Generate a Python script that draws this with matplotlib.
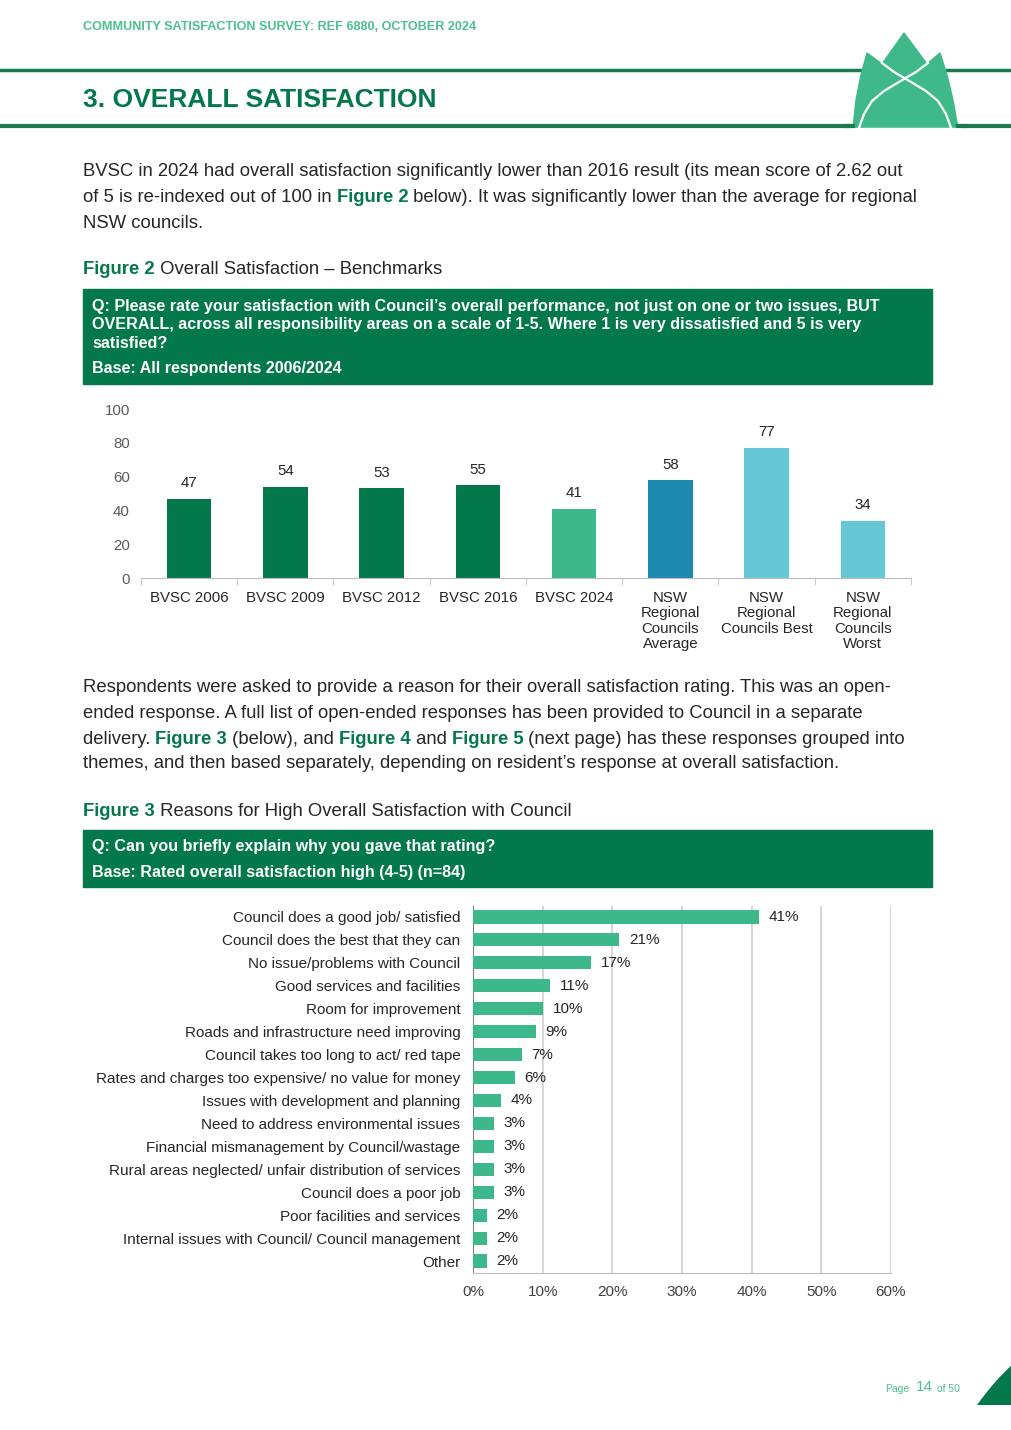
import matplotlib
matplotlib.use("Agg")
import matplotlib.pyplot as plt
from matplotlib.patches import Polygon, Rectangle, PathPatch
from matplotlib.path import Path

plt.rcParams["font.family"] = ["Liberation Sans", "DejaVu Sans"]

# Figure 2 data
bench_labels = ["BVSC 2006", "BVSC 2009", "BVSC 2012", "BVSC 2016", "BVSC 2024",
                "NSW\nRegional\nCouncils\nAverage", "NSW\nRegional\nCouncils Best",
                "NSW\nRegional\nCouncils\nWorst"]
bench_values = [47, 54, 53, 55, 41, 58, 77, 34]
bench_colors = ["#03784b"] * 4 + ["#3db88b", "#1f8aaf", "#66c8d6", "#66c8d6"]

# Figure 3 data
reason_labels = [
    "Council does a good job/ satisfied",
    "Council does the best that they can",
    "No issue/problems with Council",
    "Good services and facilities",
    "Room for improvement",
    "Roads and infrastructure need improving",
    "Council takes too long to act/ red tape",
    "Rates and charges too expensive/ no value for money",
    "Issues with development and planning",
    "Need to address environmental issues",
    "Financial mismanagement by Council/wastage",
    "Rural areas neglected/ unfair distribution of services",
    "Council does a poor job",
    "Poor facilities and services",
    "Internal issues with Council/ Council management",
    "Other",
]
reason_values = [41, 21, 17, 11, 10, 9, 7, 6, 4, 3, 3, 3, 3, 2, 2, 2]

DARK = "#03784b"
LIGHT = "#3db88b"
TXT = "#262626"
BODY = 13.3
W, H = 1012, 1430

fig = plt.figure(figsize=(W / 100, H / 100), dpi=100)
page = fig.add_axes([0, 0, 1, 1])
page.set_xlim(0, W)
page.set_ylim(H, 0)
page.axis("off")
renderer = fig.canvas.get_renderer()


def rect(x0, y0, x1, y1):
    # pixel box -> figure fraction
    return [x0 / W, 1 - y1 / H, (x1 - x0) / W, (y1 - y0) / H]


def rich(x, y, parts, size=BODY):
    """draw text segments one after another on the same line"""
    for s, bold, color in parts:
        t = page.text(x, y, s, fontsize=size, color=color, va="center",
                      fontweight="bold" if bold else "normal")
        x += t.get_window_extent(renderer).width


# header
page.text(83, 27, "COMMUNITY SATISFACTION SURVEY: REF 6880, OCTOBER 2024",
          fontsize=9.1, fontweight="bold", color="#4cc08f", va="center")
page.plot([0, W], [70, 70], color="#1b7a50", lw=2.5)
page.plot([0, W], [126, 126], color="#1b7a50", lw=3)
page.text(83, 100, "3. OVERALL SATISFACTION", fontsize=19, fontweight="bold",
          color=DARK, va="center")

# logo
logo = Polygon([(853, 128), (856, 100), (861, 75), (867, 53), (882, 64), (904, 33),
                (927, 64), (940, 53), (947, 75), (953, 100), (958, 128)],
               closed=True, color="#40b98a", zorder=3)
page.add_patch(logo)
curve_a = [(859, 128), (864, 114), (872, 101), (884, 91), (904, 79), (916, 72), (928, 63)]
curve_b = [(951 - (px - 859), py) for px, py in curve_a]
for pts in (curve_a, curve_b):
    page.plot([p[0] for p in pts], [p[1] for p in pts], color="white", lw=1.6, zorder=4)
page.add_patch(Rectangle((850, 128), 112, 6, color="white", zorder=3))
page.plot([845, 853], [126, 126], color="#1b7a50", lw=3, zorder=3)
page.plot([958, 965], [126, 126], color="#1b7a50", lw=3, zorder=3)

# paragraph 1
rich(83, 172, [("BVSC in 2024 had overall satisfaction significantly lower than 2016 result "
                "(its mean score of 2.62 out", False, TXT)])
rich(83, 197, [("of 5 is re-indexed out of 100 in ", False, TXT), ("Figure 2", True, DARK),
               (" below). It was significantly lower than the average for regional", False, TXT)])
rich(83, 223, [("NSW councils.", False, TXT)])
rich(83, 270, [("Figure 2", True, DARK), (" Overall Satisfaction \u2013 Benchmarks", False, TXT)])

# question box figure 2
page.add_patch(Rectangle((83, 289), 849, 95, color=DARK))
box_lines = [(306, "Q: Please rate your satisfaction with Council\u2019s overall performance, not just on one or two issues, BUT"),
             (325, "OVERALL, across all responsibility areas on a scale of 1-5. Where 1 is very dissatisfied and 5 is very"),
             (343, "satisfied?"),
             (368, "Base: All respondents 2006/2024")]
for y, s in box_lines:
    page.text(92, y, s, fontsize=11.6, fontweight="bold", color="white", va="center")

# bar chart
ax1 = fig.add_axes(rect(141, 409, 911, 578))
x = range(len(bench_values))
ax1.bar(x, bench_values, width=0.46, color=bench_colors)
for i, v in enumerate(bench_values):
    ax1.text(i, v + 5, str(v), ha="center", va="bottom", fontsize=10.8, color=TXT)
ax1.set_xlim(-0.5, len(bench_values) - 0.5)
ax1.set_ylim(0, 100)
ax1.set_yticks(range(0, 101, 20))
ax1.tick_params(axis="y", length=0, pad=8, labelsize=10.8, labelcolor="#595959")
ax1.set_xticks(list(x))
ax1.set_xticklabels(bench_labels, fontsize=10.8, color=TXT, linespacing=1.15, va="top")
ax1.tick_params(axis="x", length=0, pad=9)
ax1.set_xticks([i + 0.5 for i in range(-1, len(bench_values))], minor=True)
ax1.tick_params(axis="x", which="minor", length=5, color="#bfbfbf")
for s in ["top", "right", "left"]:
    ax1.spines[s].set_visible(False)
ax1.spines["bottom"].set_color("#bfbfbf")

# paragraph 2
rich(83, 688, [("Respondents were asked to provide a reason for their overall satisfaction rating. "
                "This was an open-", False, TXT)])
rich(83, 713, [("ended response. A full list of open-ended responses has been provided to Council "
                "in a separate", False, TXT)])
rich(83, 739, [("delivery. ", False, TXT), ("Figure 3", True, DARK), (" (below), and ", False, TXT),
               ("Figure 4", True, DARK), (" and ", False, TXT), ("Figure 5", True, DARK),
               (" (next page) has these responses grouped into", False, TXT)])
rich(83, 764, [("themes, and then based separately, depending on resident\u2019s response at "
                "overall satisfaction.", False, TXT)])
rich(83, 811, [("Figure 3", True, DARK), (" Reasons for High Overall Satisfaction with Council", False, TXT)])

page.add_patch(Rectangle((83, 830), 849, 57, color=DARK))
page.text(92, 847, "Q: Can you briefly explain why you gave that rating?", fontsize=11.6,
          fontweight="bold", color="white", va="center")
page.text(92, 872, "Base: Rated overall satisfaction high (4-5) (n=84)", fontsize=11.6,
          fontweight="bold", color="white", va="center")

# horizontal bar chart
ax2 = fig.add_axes(rect(473, 905.5, 891, 1272.5))
y = range(len(reason_values))
ax2.barh(y, reason_values, height=0.57, color=LIGHT, zorder=3)
for i, v in enumerate(reason_values):
    ax2.text(v + 1.4, i, f"{v}%", va="center", ha="left", fontsize=11, color=TXT, zorder=4)
ax2.set_ylim(len(reason_values) - 0.5, -0.5)
ax2.set_xlim(0, 60)
ax2.set_yticks(list(y))
ax2.set_yticklabels(reason_labels, fontsize=11, color=TXT)
ax2.set_xticks(range(0, 61, 10))
ax2.set_xticklabels([f"{t}%" for t in range(0, 61, 10)], fontsize=11, color="#404040")
ax2.tick_params(axis="y", length=0, pad=9)
ax2.tick_params(axis="x", length=0, pad=9)
ax2.grid(axis="x", color="#d0d0d0", lw=1.2, zorder=0)
for s in ["top", "right"]:
    ax2.spines[s].set_visible(False)
ax2.spines["left"].set_color("#808080")
ax2.spines["bottom"].set_color("#bfbfbf")

# footer
page.text(885, 1389, "Page", fontsize=7.5, color="#4cc08f", va="center")
page.text(916, 1387, "14", fontsize=11, color="#4cc08f", va="center")
page.text(937, 1389, "of 50", fontsize=7.5, color="#4cc08f", va="center")
corner = Path([(977, 1405), (995, 1380), (1012, 1365), (1012, 1405), (977, 1405)],
              [Path.MOVETO, Path.CURVE3, Path.CURVE3, Path.LINETO, Path.CLOSEPOLY])
page.add_patch(PathPatch(corner, fc=DARK, ec="none"))

fig.savefig("out.png", dpi=100)
